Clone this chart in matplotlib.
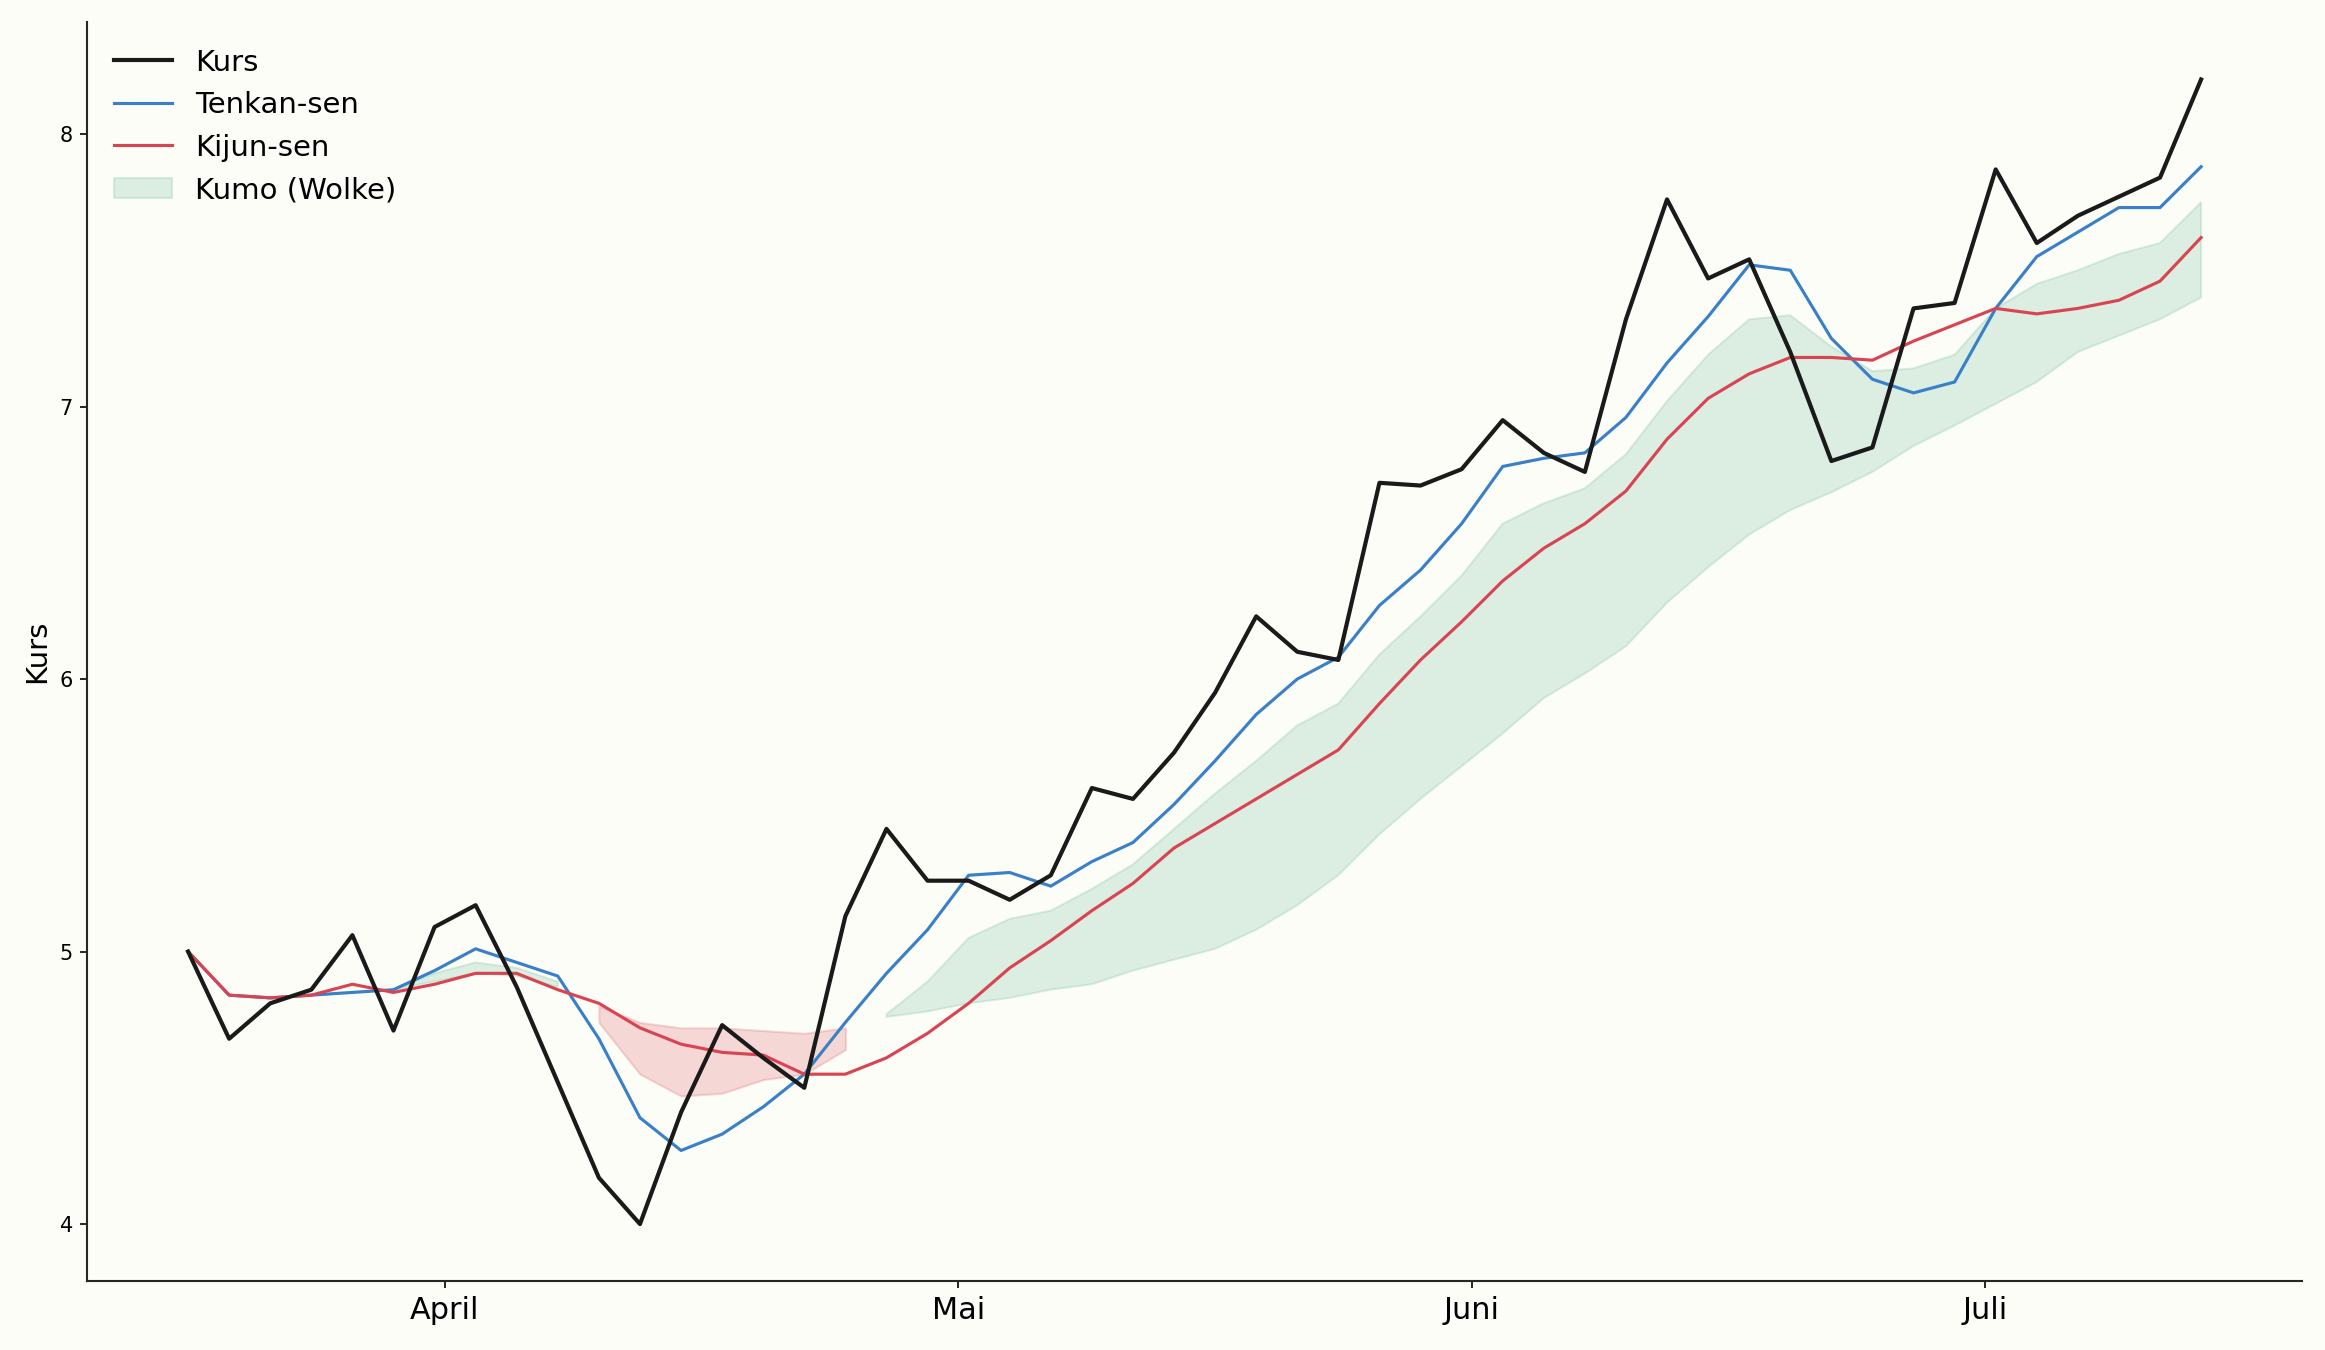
import numpy as np
import matplotlib
matplotlib.use("Agg")
import matplotlib.pyplot as plt

# ---- data ----
kurs = [5.00, 4.68, 4.81, 4.86, 5.06, 4.71, 5.09, 5.17, 4.87, 4.52,
        4.17, 4.00, 4.41, 4.73, 4.61, 4.50, 5.13, 5.45, 5.26, 5.26,
        5.19, 5.28, 5.60, 5.56, 5.73, 5.95, 6.23, 6.10, 6.07, 6.72,
        6.71, 6.77, 6.95, 6.83, 6.76, 7.32, 7.76, 7.47, 7.54, 7.20,
        6.80, 6.85, 7.36, 7.38, 7.87, 7.60, 7.70, 7.77, 7.84, 8.20]

tenkan = [5.00, 4.84, 4.83, 4.84, 4.85, 4.86, 4.93, 5.01, 4.96, 4.91,
          4.68, 4.39, 4.27, 4.33, 4.43, 4.55, 4.74, 4.92, 5.08, 5.28,
          5.29, 5.24, 5.33, 5.40, 5.54, 5.70, 5.87, 6.00, 6.08, 6.27,
          6.40, 6.57, 6.78, 6.81, 6.83, 6.96, 7.16, 7.33, 7.52, 7.50,
          7.25, 7.10, 7.05, 7.09, 7.36, 7.55, 7.64, 7.73, 7.73, 7.88]

kijun = [5.00, 4.84, 4.83, 4.84, 4.88, 4.85, 4.88, 4.92, 4.92, 4.86,
         4.81, 4.72, 4.66, 4.63, 4.62, 4.55, 4.55, 4.61, 4.70, 4.81,
         4.94, 5.04, 5.15, 5.25, 5.38, 5.47, 5.56, 5.65, 5.74, 5.91,
         6.07, 6.21, 6.36, 6.48, 6.57, 6.69, 6.88, 7.03, 7.12, 7.18,
         7.18, 7.17, 7.24, 7.30, 7.36, 7.34, 7.36, 7.39, 7.46, 7.62]

nan = np.nan
senkou_a = [nan, nan, nan, nan, nan, 4.86, 4.92, 4.96, 4.94, 4.89,
            4.74, 4.55, 4.47, 4.48, 4.53, 4.55, 4.64, 4.77, 4.89, 5.05,
            5.12, 5.15, 5.23, 5.32, 5.45, 5.58, 5.70, 5.83, 5.91, 6.09,
            6.23, 6.38, 6.57, 6.645, 6.70, 6.825, 7.02, 7.19, 7.32, 7.335,
            7.22, 7.13, 7.14, 7.19, 7.36, 7.45, 7.50, 7.56, 7.60, 7.75]

senkou_b = [nan, nan, nan, nan, nan, 4.86, 4.89, 4.92, 4.91, 4.87,
            4.80, 4.74, 4.72, 4.72, 4.71, 4.70, 4.72, 4.76, 4.78, 4.81,
            4.83, 4.86, 4.88, 4.93, 4.97, 5.01, 5.08, 5.17, 5.28, 5.43,
            5.56, 5.68, 5.80, 5.93, 6.02, 6.12, 6.28, 6.41, 6.53, 6.62,
            6.685, 6.76, 6.855, 6.93, 7.01, 7.09, 7.20, 7.26, 7.32, 7.40]

month_labels = ["April", "Mai", "Juni", "Juli"]
month_pos = [6.25, 18.75, 31.25, 43.75]

# ---- plot ----
bg = "#fdfdf8"
fig = plt.figure(figsize=(15.5, 9), dpi=150, facecolor=bg)
ax = fig.add_axes([0.0376, 0.0509, 0.9524, 0.9326])
ax.set_facecolor(bg)

x = np.arange(len(kurs))
a = np.array(senkou_a, dtype=float)
b = np.array(senkou_b, dtype=float)

ax.fill_between(x, a, b, where=(a >= b), color="#3aa876", alpha=0.17,
                label="Kumo (Wolke)", interpolate=False)
ax.fill_between(x, a, b, where=(a < b), color="#d94452", alpha=0.2,
                interpolate=False)

ax.plot(x, kurs, color="#1a1a1a", lw=2.0, label="Kurs", zorder=4)
ax.plot(x, tenkan, color="#3a80c8", lw=1.5, label="Tenkan-sen", zorder=3)
ax.plot(x, kijun, color="#d94452", lw=1.5, label="Kijun-sen", zorder=3)

ax.set_xticks(month_pos)
ax.set_xticklabels(month_labels, fontsize=14.5)
ax.tick_params(axis="y", labelsize=10)
ax.set_ylabel("Kurs", fontsize=14)

for s in ["top", "right"]:
    ax.spines[s].set_visible(False)
for s in ["left", "bottom"]:
    ax.spines[s].set_color("#262626")
    ax.spines[s].set_linewidth(1.0)

handles, labels = ax.get_legend_handles_labels()
order = ["Kurs", "Tenkan-sen", "Kijun-sen", "Kumo (Wolke)"]
hmap = dict(zip(labels, handles))
ax.legend([hmap[k] for k in order], order, loc="upper left",
          frameon=False, fontsize=14)

fig.savefig("out.png", dpi=150, facecolor=bg)
